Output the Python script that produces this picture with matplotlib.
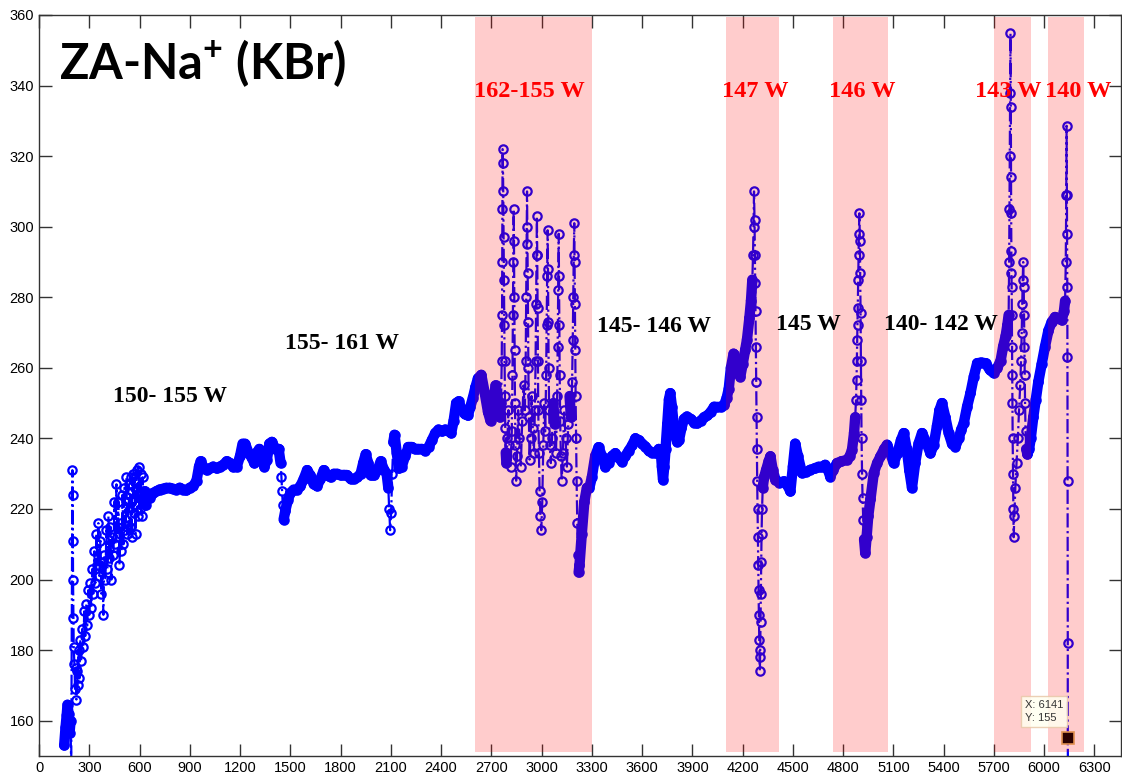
import matplotlib
matplotlib.use('Agg')
import matplotlib.pyplot as plt
from matplotlib.collections import LineCollection
import numpy as np

# --- данные (x, y по участкам) ---

# разгон 150-642
x_start = [150, 158, 165, 170, 176, 182, 188, 192, 199, 201,
           202, 203, 205, 207, 211, 215, 219, 223, 227, 231,
           236, 241, 246, 252, 258, 264, 270, 276, 282, 288,
           294, 300, 306, 312, 318, 324, 330, 336, 342, 348,
           354, 360, 366, 372, 378, 384, 390, 396, 402, 408,
           414, 420, 426, 432, 438, 444, 450, 456, 462, 468,
           474, 480, 486, 492, 498, 504, 510, 516, 522, 528,
           534, 540, 546, 552, 558, 564, 570, 576, 582, 588,
           594, 600, 606, 612, 618, 624, 630, 636, 642]
y_start = [153, 158, 161.5, 164.5, 162, 156.5, 160, 146, 231, 224,
           211, 200, 189, 181, 176, 169, 175, 166, 174, 170,
           180, 172, 183, 177, 186, 181, 191, 184, 193, 187,
           197, 190, 199, 192, 203, 196, 208, 199, 213, 204,
           216, 201, 211, 196, 205, 190, 207, 200, 214, 203,
           218, 206, 215, 200, 212, 207, 222, 210, 227, 212,
           222, 204, 216, 208, 224, 210, 226, 214, 229, 213,
           227, 215, 229, 212, 230, 219, 228, 213, 231, 218,
           232, 220, 230, 218, 229, 222, 225, 221, 223]

# 150-161 W, плавный участок 660-2725
x_band = [660, 680, 700, 720, 740, 760, 780, 800, 820, 840,
          860, 880, 900, 920, 940, 955, 965, 980, 1000, 1020,
          1040, 1060, 1080, 1100, 1120, 1140, 1160, 1180, 1200, 1215,
          1230, 1250, 1270, 1285, 1300, 1315, 1330, 1345, 1360, 1375,
          1390, 1410, 1430, 1442, 1447, 1451, 1455, 1460, 1470, 1485,
          1500, 1520, 1540, 1560, 1580, 1600, 1620, 1640, 1660, 1680,
          1700, 1720, 1740, 1760, 1780, 1800, 1820, 1840, 1860, 1880,
          1900, 1920, 1935, 1950, 1965, 1980, 2000, 2020, 2040, 2060,
          2075, 2085, 2090, 2096, 2102, 2108, 2115, 2122, 2135, 2148,
          2165, 2185, 2205, 2225, 2245, 2265, 2285, 2305, 2325, 2345,
          2365, 2385, 2405, 2425, 2445, 2460, 2475, 2490, 2505, 2520,
          2540, 2560, 2575, 2590, 2605, 2620, 2640, 2660, 2680, 2695,
          2710, 2725]
y_band = [223, 224.5, 225, 225.5, 225.7, 226, 226, 225.7, 225.5, 226,
          225.5, 225.3, 226, 226.5, 228, 232, 233.5, 232, 231, 231.5,
          232, 231.5, 232, 232.5, 233.5, 233, 232, 232, 235, 238.5,
          238.5, 236, 234.5, 233, 236, 237, 234, 232, 234, 238.5,
          239, 237, 237, 233, 229, 225, 221, 217, 219.5, 222.5,
          224.5, 225.5, 225.5, 226.5, 228.5, 231, 229.5, 227, 226.5, 228.5,
          231, 229.5, 229, 230, 230, 229.5, 229.5, 229.5, 228.5, 228.5,
          229, 230, 233, 235.5, 233, 229.5, 229.5, 231, 233.5, 231,
          230, 226, 220, 214, 219, 230, 239, 241, 236, 231.5,
          232, 235, 237.5, 237.5, 237, 237, 237, 236.5, 237.5, 239.5,
          241.5, 242.5, 242, 242.5, 242, 241.5, 245, 250, 250.5, 248.5,
          247, 246.5, 249, 251.5, 254.5, 257, 258, 253, 247.5, 245,
          249, 255]

# 162-155 W, колебания 2740-3340
x_burst = [2740, 2750, 2758, 2762, 2764, 2765, 2766, 2767, 2769, 2771,
           2773, 2775, 2777, 2779, 2781, 2783, 2786, 2790, 2796, 2802,
           2808, 2815, 2822, 2826, 2829, 2831, 2833, 2835, 2837, 2839,
           2841, 2844, 2848, 2853, 2860, 2868, 2876, 2884, 2892, 2900,
           2905, 2908, 2911, 2913, 2915, 2917, 2919, 2921, 2924, 2928,
           2934, 2940, 2947, 2954, 2960, 2964, 2967, 2970, 2972, 2974,
           2976, 2978, 2980, 2984, 2988, 2993, 2998, 3004, 3010, 3016,
           3022, 3027, 3030, 3033, 3036, 3038, 3040, 3042, 3045, 3049,
           3055, 3062, 3070, 3078, 3086, 3093, 3096, 3099, 3102, 3104,
           3106, 3108, 3111, 3115, 3120, 3127, 3135, 3143, 3151, 3159,
           3167, 3175, 3182, 3186, 3189, 3192, 3195, 3197, 3199, 3201,
           3203, 3206, 3209, 3213, 3217, 3221, 3226, 3240, 3255, 3270,
           3285, 3300, 3320, 3340]
y_burst = [250, 246, 250, 262, 275, 290, 305, 322, 318, 310,
           297, 285, 272, 262, 252, 243, 236, 233, 240, 248,
           238, 232, 242, 258, 275, 290, 305, 296, 280, 265,
           250, 238, 228, 235, 248, 240, 232, 245, 255, 248,
           262, 280, 295, 310, 300, 287, 273, 260, 246, 234,
           240, 252, 243, 236, 248, 262, 278, 292, 303, 292,
           277, 262, 248, 236, 225, 218, 214, 222, 238, 250,
           242, 258, 272, 286, 299, 288, 273, 260, 248, 238,
           233, 240, 250, 244, 236, 252, 266, 282, 298, 286,
           272, 258, 245, 235, 228, 236, 248, 240, 232, 244,
           252, 246, 256, 268, 280, 292, 301, 290, 278, 265,
           252, 240, 228, 216, 207, 202, 204, 213, 222, 226,
           226, 229, 235, 237.5]

# 145-146 W и 147 W, 3360-4514
x_mid = [3360, 3380, 3400, 3420, 3440, 3460, 3480, 3500, 3520, 3540,
         3560, 3580, 3600, 3620, 3640, 3660, 3680, 3700, 3712, 3718,
         3725, 3732, 3740, 3750, 3760, 3768, 3778, 3788, 3798, 3810,
         3820, 3835, 3850, 3868, 3890, 3910, 3930, 3950, 3970, 3990,
         4010, 4030, 4050, 4070, 4090, 4105, 4117, 4130, 4146, 4160,
         4175, 4186, 4200, 4215, 4226, 4240, 4250, 4258, 4262, 4265,
         4268, 4271, 4273, 4275, 4277, 4279, 4281, 4283, 4285, 4287,
         4289, 4291, 4293, 4295, 4297, 4299, 4301, 4303, 4305, 4307,
         4309, 4311, 4313, 4316, 4320, 4328, 4340, 4355, 4366, 4380,
         4396, 4420, 4446, 4470, 4485, 4500, 4514]
y_mid = [235, 232, 233, 235, 235.8, 234.5, 233.4, 235, 236.5, 238,
         240, 239.5, 238.5, 237.7, 236.5, 236, 235.8, 237, 236, 232,
         228.3, 232, 237, 244, 251, 252.8, 249, 244, 240.6, 239,
         239.5, 243, 245.5, 246.2, 245.5, 244.5, 244.3, 245, 246, 246.5,
         247.5, 249, 249, 249, 249.5, 251.5, 254, 260, 264, 262,
         258.5, 257.5, 261, 265, 268, 274, 279, 285, 292, 300,
         310, 302, 292, 284, 276, 266, 256, 246, 237, 228,
         220, 212, 204, 197, 190, 183, 178, 174, 180, 188,
         196, 205, 213, 220, 226, 229, 231, 233.5, 234.9, 231,
         228.3, 227.5, 227.8, 226.5, 225, 232, 238.5]

# 145 W, 146 W, 140-142 W, 4530-5720
x_late = [4530, 4554, 4580, 4604, 4630, 4654, 4675, 4693, 4710, 4723,
          4740, 4763, 4790, 4823, 4840, 4853, 4865, 4872, 4877, 4880,
          4882, 4884, 4886, 4888, 4890, 4892, 4894, 4897, 4900, 4902,
          4904, 4906, 4908, 4910, 4913, 4916, 4920, 4925, 4932, 4940,
          4950, 4963, 4983, 5003, 5023, 5045, 5062, 5080, 5102, 5125,
          5145, 5162, 5180, 5195, 5211, 5230, 5250, 5271, 5295, 5321,
          5340, 5360, 5375, 5390, 5410, 5430, 5450, 5470, 5490, 5505,
          5520, 5540, 5560, 5580, 5600, 5625, 5650, 5675, 5699, 5720]
y_late = [235, 230.2, 230.5, 231.1, 231.5, 232, 232, 232.5, 231, 229.2,
          231, 233, 233.5, 233.9, 235, 236.8, 241.5, 246, 251, 256.6,
          262, 268, 272, 277, 285, 292, 298, 303.8, 296, 287,
          275.5, 262, 251, 240, 230, 223, 217, 211.4, 207.6, 212,
          218, 222.7, 230.2, 233, 234.9, 237, 238.2, 236, 233, 236,
          239.5, 241.5, 237, 231, 226, 233, 238.5, 241.5, 239, 235.8,
          238, 243.5, 248, 250, 246, 241.5, 238.5, 237.7, 240, 242.5,
          244.3, 249, 252.8, 257.5, 261.3, 261.5, 261.3, 259.5, 258.5, 260]

# 143 W и 140 W, 5740-6142
x_end = [5740, 5755, 5770, 5780, 5788, 5791, 5793, 5795, 5797, 5799,
         5801, 5802, 5803, 5804, 5805, 5806, 5807, 5808, 5809, 5810,
         5812, 5814, 5816, 5818, 5822, 5828, 5835, 5843, 5850, 5857,
         5862, 5866, 5869, 5872, 5875, 5878, 5880, 5882, 5884, 5886,
         5889, 5893, 5900, 5910, 5920, 5935, 5950, 5965, 5985, 6005,
         6025, 6045, 6065, 6085, 6105, 6118, 6125, 6129, 6132, 6134,
         6136, 6137, 6138, 6139, 6140, 6141, 6141, 6142]
y_end = [262, 266, 269, 272, 275, 290, 305, 320, 338, 354.8,
         334, 314, 304, 293, 287, 283, 275, 266, 258, 250,
         240, 230, 220, 212, 218, 226, 233, 240, 248, 255,
         262, 270, 278, 285, 290, 283, 275, 266, 258, 250,
         242, 237, 235.5, 237, 240, 246, 251, 256, 261, 266,
         270.5, 273, 274.4, 274, 273.5, 276, 279, 290, 309, 328.6,
         309, 298, 283, 263, 228, 182, 155, 145]

# закрашенные интервалы и подписи мощности
shade_from = [2600, 4100, 4740, 5700, 6020]
shade_to = [3300, 4420, 5070, 5920, 6240]
red_labels = ['162-155 W', '147 W', '146 W', '143 W', '140 W']
red_label_x = [2927, 4276, 4915, 5786, 6204]
black_labels = ['150- 155 W', '155- 161 W', '145- 146 W', '145 W', '140- 142 W']
black_label_x = [784, 1810, 3673, 4592, 5386]
black_label_y = [251.8, 266.8, 271.6, 272.2, 272.2]

tip_x, tip_y = 6141, 155

x = np.concatenate([x_start, x_band, x_burst, x_mid, x_late, x_end])
y = np.concatenate([y_start, y_band, y_burst, y_mid, y_late, y_end])

plt.rcParams['font.family'] = ['Liberation Sans', 'DejaVu Sans']

fig = plt.figure(figsize=(11.22, 7.80), dpi=100)
ax = fig.add_axes([0.0348, 0.0308, 0.9645, 0.95])

# плотные точки на пологих участках сливаются в толстую ленту
segs = np.stack([np.column_stack([x[:-1], y[:-1]]),
                 np.column_stack([x[1:], y[1:]])], axis=1)
slope = np.abs(np.diff(y)) / np.clip(np.diff(x), 1, None)
widths = np.where(slope < 0.8, 7.5, 0.0)
ax.add_collection(LineCollection(segs, linewidths=widths, colors='#0000ff',
                                 capstyle='round', zorder=1.9))

# сама кривая
ax.plot(x, y, '-.', color='#0000ff', linewidth=1.6, marker='o', markersize=6,
        markerfacecolor='none', markeredgewidth=1.6, zorder=2)

# розовые полосы поверх кривой
for a, b in zip(shade_from, shade_to):
    ax.axvspan(a, b, ymin=0.005, ymax=0.997, color='red', alpha=0.2,
               linewidth=0, zorder=3)

# подписи
for lab, lx in zip(red_labels, red_label_x):
    ax.text(lx, 338.2, lab, color='red', fontsize=17.5, fontweight='bold',
            family='Liberation Serif', ha='center', va='center', zorder=5)
for lab, lx, ly in zip(black_labels, black_label_x, black_label_y):
    ax.text(lx, ly, lab, color='black', fontsize=17, fontweight='bold',
            family='Liberation Serif', ha='center', va='center', zorder=5)

# заголовок внутри осей
plt.rcParams['mathtext.fontset'] = 'custom'
plt.rcParams['mathtext.rm'] = 'Lato:bold'
plt.rcParams['mathtext.default'] = 'rm'
ax.text(122, 346.5, r'ZA-Na$^{+}$ (KBr)', fontsize=35, fontweight='bold',
        family='Lato', ha='left', va='center', zorder=5)

# подсказка с координатой точки
ax.plot(tip_x, tip_y, 's', markersize=8, markerfacecolor='#2a0000',
        markeredgecolor='#e09050', markeredgewidth=1.2, zorder=6)
ax.text(5885, 162.5, f'X: {tip_x}\nY: {tip_y}', fontsize=8, color='#333333',
        va='center', ha='left', zorder=6, linespacing=1.4,
        bbox=dict(boxstyle='square,pad=0.35', fc='#fffff0', ec='#e8c8a8',
                  alpha=0.85))

ax.set_xlim(0, 6460)
ax.set_ylim(150, 360)
ax.set_xticks(np.arange(0, 6301, 300))
ax.set_yticks(np.arange(160, 361, 20))
ax.tick_params(direction='in', length=9, width=1, labelsize=10.5,
               top=True, right=True, color='#333333')
for s in ax.spines.values():
    s.set_color('#333333')
    s.set_linewidth(1)

fig.savefig('out.png', dpi=100)
